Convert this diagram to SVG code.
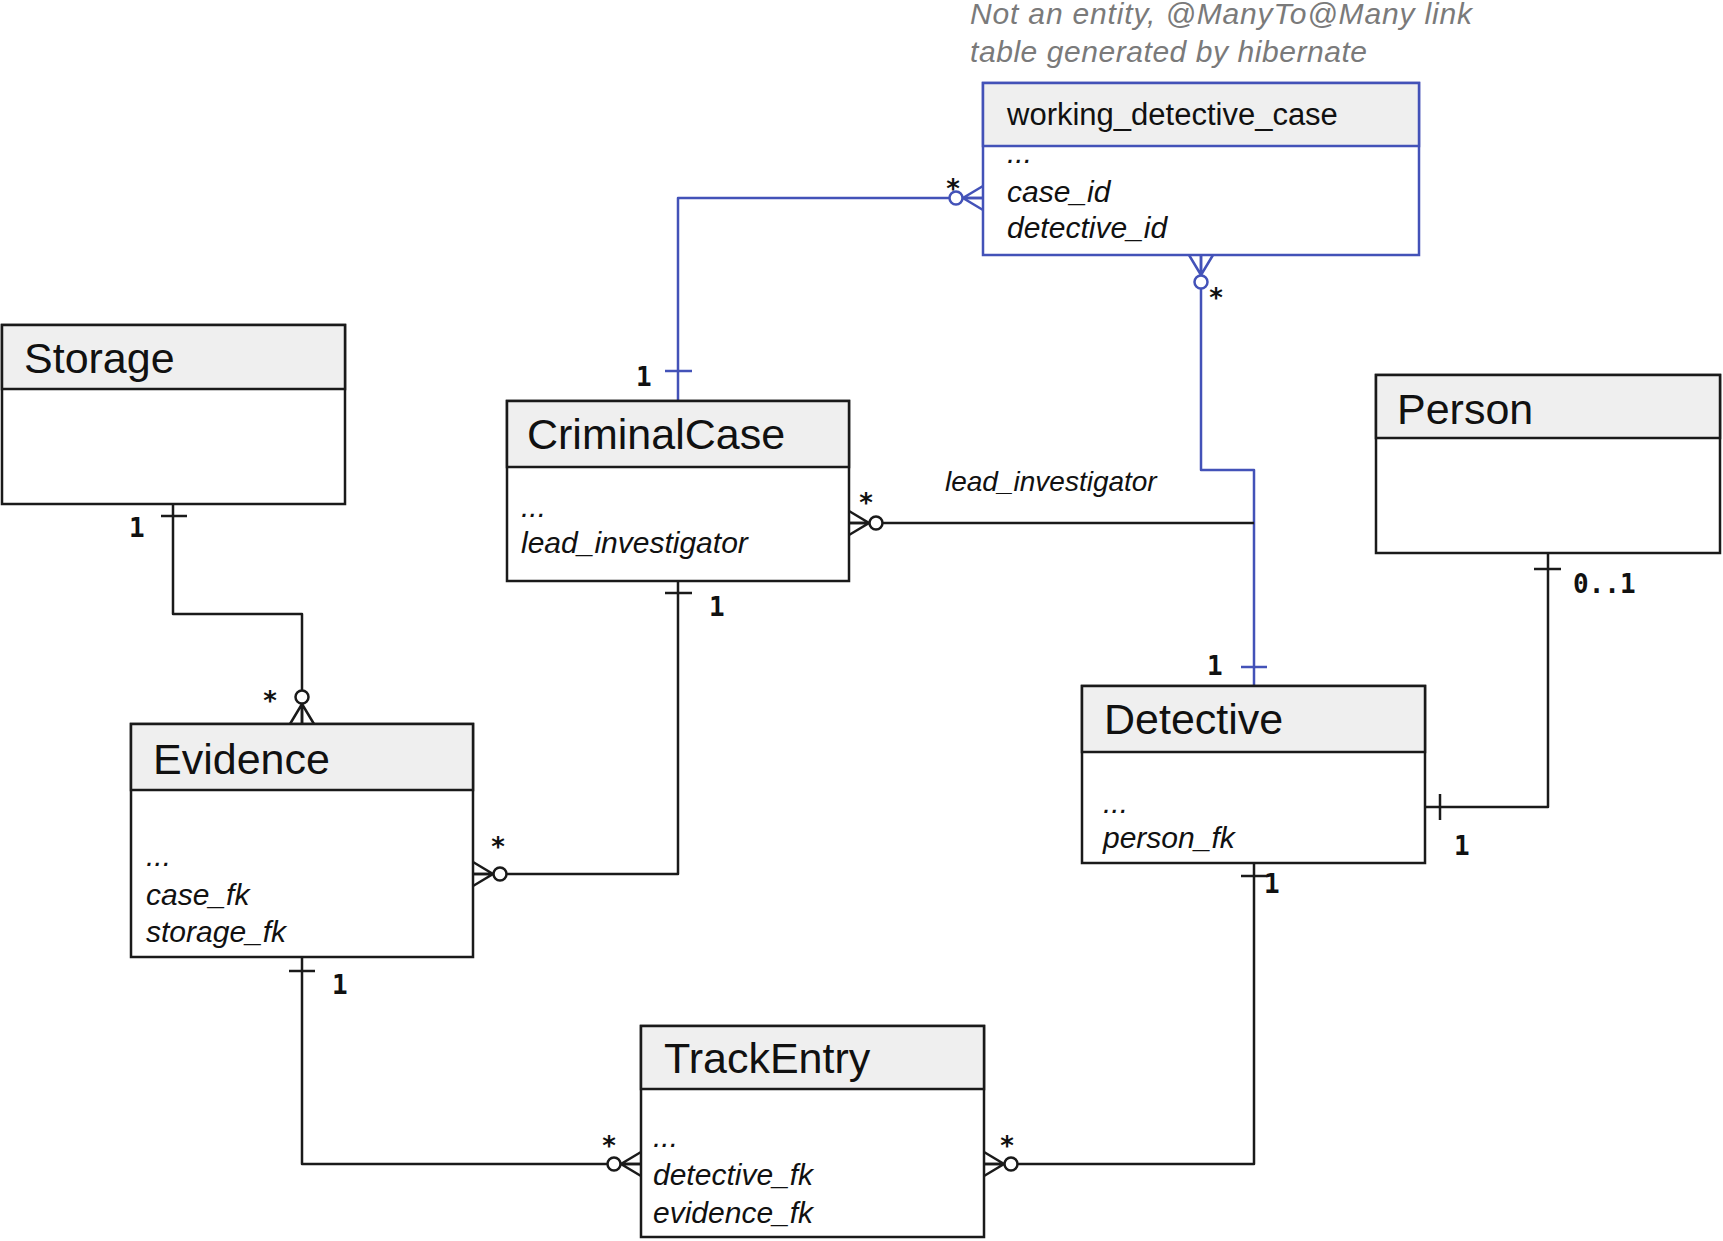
<svg xmlns="http://www.w3.org/2000/svg" xmlns:xlink="http://www.w3.org/1999/xlink" width="1723" height="1241" viewBox="0 0 1723 1241">
<style>
  .box { fill: #ffffff; stroke: #1a1a1a; stroke-width: 2.5; }
  .hdr { fill: #efefef; stroke: #1a1a1a; stroke-width: 2.5; }
  .bbox { fill: #ffffff; stroke: #4352b8; stroke-width: 2.5; }
  .bhdr { fill: #efefef; stroke: #4352b8; stroke-width: 2.5; }
  .title { font-family: "Liberation Sans", Arial, sans-serif; font-size: 43px; fill: #111; }
  .wtitle { font-family: "Liberation Sans", Arial, sans-serif; font-size: 31px; fill: #111; }
  .attr { font-family: "Liberation Sans", Arial, sans-serif; font-size: 30px; font-style: italic; fill: #111; }
  .note { font-family: "Liberation Sans", Arial, sans-serif; font-size: 30px; font-style: italic; fill: #7a7a7a; }
  .lbl { font-family: "Liberation Sans", Arial, sans-serif; font-size: 28px; font-style: italic; fill: #111; }
  .mult { font-family: "DejaVu Sans Mono", "Liberation Mono", monospace; font-size: 26px; font-weight: bold; fill: #111; }
  .star { font-family: "DejaVu Sans Mono", "Liberation Mono", monospace; font-size: 26px; font-weight: bold; fill: #111; text-anchor: middle; }
  .ln { fill: none; stroke: #1a1a1a; stroke-width: 2.5; stroke-linejoin: round; }
  .bln { fill: none; stroke: #4352b8; stroke-width: 2.5; stroke-linejoin: round; }
  .cfk { fill: none; stroke: #1a1a1a; stroke-width: 2.5; }
  .cfb { fill: none; stroke: #4352b8; stroke-width: 2.5; }
</style>
<defs>
  <g id="cf">
    <path d="M0,-12 L20,0 L0,12 M0,0 L20.5,0"/>
    <circle cx="27" cy="0" r="6.5" fill="#ffffff"/>
  </g>
</defs>

<!-- note -->
<g id="note">
  <text class="note" x="970" y="24" textLength="502" lengthAdjust="spacing">Not an entity, @ManyTo@Many link</text>
  <text class="note" x="970" y="62" textLength="397" lengthAdjust="spacing">table generated by hibernate</text>
</g>

<!-- connectors -->
<g id="connectors">
  <!-- CriminalCase <-> working_detective_case (blue) -->
  <path class="bln" d="M678,401 L678,198 L983,198"/>
  <path class="bln" d="M665,371 L692,371"/>
  <use xlink:href="#cf" class="cfb" transform="translate(983,198) rotate(180)"/>
  <text class="mult" x="636" y="386">1</text>
  <text class="star" x="953" y="198">*</text>

  <!-- working_detective_case <-> Detective (blue) -->
  <path class="bln" d="M1201,255 L1201,470 L1254,470 L1254,686"/>
  <path class="bln" d="M1241,667 L1267,667"/>
  <use xlink:href="#cf" class="cfb" transform="translate(1201,255) rotate(90)"/>
  <text class="star" x="1216" y="307">*</text>
  <text class="mult" x="1207" y="675">1</text>

  <!-- CriminalCase lead_investigator -> Detective -->
  <path class="ln" d="M849,523 L1254,523"/>
  <use xlink:href="#cf" class="cfk" transform="translate(849,523)"/>
  <text class="star" x="866" y="512">*</text>
  <text class="lbl" x="945" y="491">lead_investigator</text>

  <!-- CriminalCase -> Evidence -->
  <path class="ln" d="M678,581 L678,874 L473,874"/>
  <path class="ln" d="M665,593 L692,593"/>
  <use xlink:href="#cf" class="cfk" transform="translate(473,874)"/>
  <text class="mult" x="709" y="616">1</text>
  <text class="star" x="498" y="856">*</text>

  <!-- Storage -> Evidence -->
  <path class="ln" d="M173,504 L173,614 L302,614 L302,724"/>
  <path class="ln" d="M161,516 L187,516"/>
  <use xlink:href="#cf" class="cfk" transform="translate(302,724) rotate(-90)"/>
  <text class="mult" x="129" y="537">1</text>
  <text class="star" x="270" y="710">*</text>

  <!-- Person -> Detective -->
  <path class="ln" d="M1548,553 L1548,807 L1425,807"/>
  <path class="ln" d="M1534,569 L1561,569"/>
  <path class="ln" d="M1440,794 L1440,820"/>
  <text class="mult" x="1573" y="593">0..1</text>
  <text class="mult" x="1454" y="855">1</text>

  <!-- Detective -> TrackEntry -->
  <path class="ln" d="M1254,863 L1254,1164 L984,1164"/>
  <path class="ln" d="M1241,876 L1267,876"/>
  <use xlink:href="#cf" class="cfk" transform="translate(984,1164)"/>
  <text class="mult" x="1264" y="893">1</text>
  <text class="star" x="1007" y="1155">*</text>

  <!-- Evidence -> TrackEntry -->
  <path class="ln" d="M302,957 L302,1164 L641,1164"/>
  <path class="ln" d="M289,971 L315,971"/>
  <use xlink:href="#cf" class="cfk" transform="translate(641,1164) rotate(180)"/>
  <text class="mult" x="332" y="994">1</text>
  <text class="star" x="609" y="1155">*</text>
</g>

<!-- nodes -->
<g id="working_detective_case">
  <rect class="bbox" x="983" y="83" width="436" height="172"/>
  <rect class="bhdr" x="983" y="83" width="436" height="63"/>
  <text class="wtitle" x="1007" y="125">working_detective_case</text>
  <text class="attr" x="1007" y="163">...</text>
  <text class="attr" x="1007" y="202">case_id</text>
  <text class="attr" x="1007" y="238">detective_id</text>
</g>

<g id="Storage">
  <rect class="box" x="2" y="325" width="343" height="179"/>
  <rect class="hdr" x="2" y="325" width="343" height="64"/>
  <text class="title" x="24" y="373">Storage</text>
</g>

<g id="CriminalCase">
  <rect class="box" x="507" y="401" width="342" height="180"/>
  <rect class="hdr" x="507" y="401" width="342" height="66"/>
  <text class="title" x="527" y="449">CriminalCase</text>
  <text class="attr" x="521" y="517">...</text>
  <text class="attr" x="521" y="553">lead_investigator</text>
</g>

<g id="Person">
  <rect class="box" x="1376" y="375" width="344" height="178"/>
  <rect class="hdr" x="1376" y="375" width="344" height="63"/>
  <text class="title" x="1397" y="424">Person</text>
</g>

<g id="Detective">
  <rect class="box" x="1082" y="686" width="343" height="177"/>
  <rect class="hdr" x="1082" y="686" width="343" height="66"/>
  <text class="title" x="1104" y="734">Detective</text>
  <text class="attr" x="1103" y="813">...</text>
  <text class="attr" x="1103" y="848">person_fk</text>
</g>

<g id="Evidence">
  <rect class="box" x="131" y="724" width="342" height="233"/>
  <rect class="hdr" x="131" y="724" width="342" height="66"/>
  <text class="title" x="153" y="774">Evidence</text>
  <text class="attr" x="146" y="866">...</text>
  <text class="attr" x="146" y="905">case_fk</text>
  <text class="attr" x="146" y="942">storage_fk</text>
</g>

<g id="TrackEntry">
  <rect class="box" x="641" y="1026" width="343" height="211"/>
  <rect class="hdr" x="641" y="1026" width="343" height="63"/>
  <text class="title" x="664" y="1073">TrackEntry</text>
  <text class="attr" x="653" y="1147">...</text>
  <text class="attr" x="653" y="1185">detective_fk</text>
  <text class="attr" x="653" y="1223">evidence_fk</text>
</g>
</svg>
